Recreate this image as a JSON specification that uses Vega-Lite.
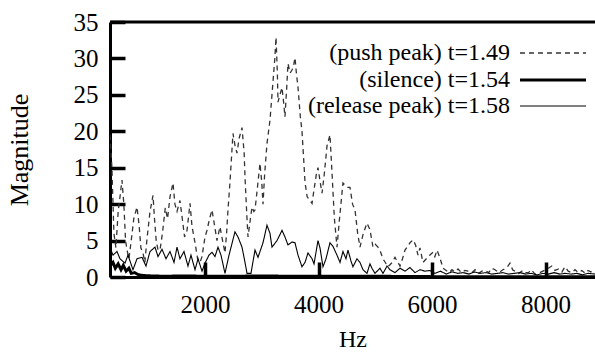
{
  "$schema": "https://vega.github.io/schema/vega-lite/v6.json",
  "width": 485,
  "height": 255,
  "autosize": {"type": "none"},
  "padding": {"left": 110, "top": 22, "right": 0, "bottom": 75},
  "background": "white",
  "config": {
    "view": {"stroke": null},
    "font": "Liberation Serif",
    "axis": {
      "grid": false,
      "domainColor": "black",
      "domainWidth": 3,
      "tickColor": "black",
      "tickWidth": 3.5,
      "tickSize": -15,
      "labelOverlap": false,
      "labelFont": "Liberation Serif",
      "labelFontSize": 25,
      "labelColor": "black",
      "titleFont": "Liberation Serif",
      "titleFontSize": 25,
      "titleFontWeight": "normal",
      "titleColor": "black"
    },
    "legend": {
      "labelFont": "Liberation Serif",
      "labelFontSize": 24,
      "labelColor": "black",
      "labelLimit": 0
    }
  },
  "datasets": {
    "spectra": [
      {"hz": 326, "m": 19.5, "series": "(push peak) t=1.49"},
      {"hz": 360, "m": 15, "series": "(push peak) t=1.49"},
      {"hz": 395, "m": 6, "series": "(push peak) t=1.49"},
      {"hz": 430, "m": 4, "series": "(push peak) t=1.49"},
      {"hz": 470, "m": 9, "series": "(push peak) t=1.49"},
      {"hz": 502, "m": 11, "series": "(push peak) t=1.49"},
      {"hz": 537, "m": 13.3, "series": "(push peak) t=1.49"},
      {"hz": 570, "m": 10, "series": "(push peak) t=1.49"},
      {"hz": 600, "m": 5, "series": "(push peak) t=1.49"},
      {"hz": 626, "m": 3.7, "series": "(push peak) t=1.49"},
      {"hz": 660, "m": 2.5, "series": "(push peak) t=1.49"},
      {"hz": 700, "m": 5, "series": "(push peak) t=1.49"},
      {"hz": 745, "m": 8, "series": "(push peak) t=1.49"},
      {"hz": 802, "m": 9.6, "series": "(push peak) t=1.49"},
      {"hz": 840, "m": 7, "series": "(push peak) t=1.49"},
      {"hz": 870, "m": 4, "series": "(push peak) t=1.49"},
      {"hz": 907, "m": 3.3, "series": "(push peak) t=1.49"},
      {"hz": 940, "m": 2.0, "series": "(push peak) t=1.49"},
      {"hz": 975, "m": 5, "series": "(push peak) t=1.49"},
      {"hz": 1031, "m": 9, "series": "(push peak) t=1.49"},
      {"hz": 1084, "m": 11.2, "series": "(push peak) t=1.49"},
      {"hz": 1110, "m": 8, "series": "(push peak) t=1.49"},
      {"hz": 1140, "m": 5, "series": "(push peak) t=1.49"},
      {"hz": 1172, "m": 3.7, "series": "(push peak) t=1.49"},
      {"hz": 1207, "m": 3.7, "series": "(push peak) t=1.49"},
      {"hz": 1250, "m": 6, "series": "(push peak) t=1.49"},
      {"hz": 1300, "m": 9.5, "series": "(push peak) t=1.49"},
      {"hz": 1340, "m": 8, "series": "(push peak) t=1.49"},
      {"hz": 1383, "m": 11, "series": "(push peak) t=1.49"},
      {"hz": 1436, "m": 12.9, "series": "(push peak) t=1.49"},
      {"hz": 1470, "m": 10, "series": "(push peak) t=1.49"},
      {"hz": 1507, "m": 9, "series": "(push peak) t=1.49"},
      {"hz": 1559, "m": 10.5, "series": "(push peak) t=1.49"},
      {"hz": 1600, "m": 8, "series": "(push peak) t=1.49"},
      {"hz": 1640, "m": 5.5, "series": "(push peak) t=1.49"},
      {"hz": 1683, "m": 6.4, "series": "(push peak) t=1.49"},
      {"hz": 1736, "m": 10.1, "series": "(push peak) t=1.49"},
      {"hz": 1770, "m": 7, "series": "(push peak) t=1.49"},
      {"hz": 1824, "m": 4.7, "series": "(push peak) t=1.49"},
      {"hz": 1870, "m": 2.5, "series": "(push peak) t=1.49"},
      {"hz": 1912, "m": 2.0, "series": "(push peak) t=1.49"},
      {"hz": 1947, "m": 2.8, "series": "(push peak) t=1.49"},
      {"hz": 2000, "m": 5.5, "series": "(push peak) t=1.49"},
      {"hz": 2035, "m": 6.4, "series": "(push peak) t=1.49"},
      {"hz": 2080, "m": 8, "series": "(push peak) t=1.49"},
      {"hz": 2123, "m": 9.2, "series": "(push peak) t=1.49"},
      {"hz": 2170, "m": 7, "series": "(push peak) t=1.49"},
      {"hz": 2211, "m": 5, "series": "(push peak) t=1.49"},
      {"hz": 2264, "m": 6.9, "series": "(push peak) t=1.49"},
      {"hz": 2310, "m": 5, "series": "(push peak) t=1.49"},
      {"hz": 2352, "m": 3.3, "series": "(push peak) t=1.49"},
      {"hz": 2380, "m": 6, "series": "(push peak) t=1.49"},
      {"hz": 2405, "m": 9.2, "series": "(push peak) t=1.49"},
      {"hz": 2440, "m": 13, "series": "(push peak) t=1.49"},
      {"hz": 2493, "m": 19.7, "series": "(push peak) t=1.49"},
      {"hz": 2530, "m": 18, "series": "(push peak) t=1.49"},
      {"hz": 2564, "m": 17, "series": "(push peak) t=1.49"},
      {"hz": 2600, "m": 19, "series": "(push peak) t=1.49"},
      {"hz": 2652, "m": 20.5, "series": "(push peak) t=1.49"},
      {"hz": 2690, "m": 17, "series": "(push peak) t=1.49"},
      {"hz": 2705, "m": 13.7, "series": "(push peak) t=1.49"},
      {"hz": 2740, "m": 8, "series": "(push peak) t=1.49"},
      {"hz": 2758, "m": 5.5, "series": "(push peak) t=1.49"},
      {"hz": 2800, "m": 8, "series": "(push peak) t=1.49"},
      {"hz": 2828, "m": 9.6, "series": "(push peak) t=1.49"},
      {"hz": 2860, "m": 9, "series": "(push peak) t=1.49"},
      {"hz": 2881, "m": 9.2, "series": "(push peak) t=1.49"},
      {"hz": 2920, "m": 12, "series": "(push peak) t=1.49"},
      {"hz": 2969, "m": 15.6, "series": "(push peak) t=1.49"},
      {"hz": 3000, "m": 13, "series": "(push peak) t=1.49"},
      {"hz": 3022, "m": 10, "series": "(push peak) t=1.49"},
      {"hz": 3050, "m": 14, "series": "(push peak) t=1.49"},
      {"hz": 3092, "m": 18.3, "series": "(push peak) t=1.49"},
      {"hz": 3120, "m": 20, "series": "(push peak) t=1.49"},
      {"hz": 3145, "m": 21.5, "series": "(push peak) t=1.49"},
      {"hz": 3180, "m": 25, "series": "(push peak) t=1.49"},
      {"hz": 3230, "m": 30, "series": "(push peak) t=1.49"},
      {"hz": 3251, "m": 32.9, "series": "(push peak) t=1.49"},
      {"hz": 3275, "m": 28, "series": "(push peak) t=1.49"},
      {"hz": 3286, "m": 24, "series": "(push peak) t=1.49"},
      {"hz": 3320, "m": 25, "series": "(push peak) t=1.49"},
      {"hz": 3357, "m": 26, "series": "(push peak) t=1.49"},
      {"hz": 3385, "m": 24, "series": "(push peak) t=1.49"},
      {"hz": 3409, "m": 22, "series": "(push peak) t=1.49"},
      {"hz": 3440, "m": 26, "series": "(push peak) t=1.49"},
      {"hz": 3462, "m": 29.3, "series": "(push peak) t=1.49"},
      {"hz": 3500, "m": 28, "series": "(push peak) t=1.49"},
      {"hz": 3533, "m": 28.4, "series": "(push peak) t=1.49"},
      {"hz": 3560, "m": 29, "series": "(push peak) t=1.49"},
      {"hz": 3586, "m": 30.1, "series": "(push peak) t=1.49"},
      {"hz": 3610, "m": 28, "series": "(push peak) t=1.49"},
      {"hz": 3639, "m": 26, "series": "(push peak) t=1.49"},
      {"hz": 3680, "m": 22, "series": "(push peak) t=1.49"},
      {"hz": 3709, "m": 20, "series": "(push peak) t=1.49"},
      {"hz": 3740, "m": 16, "series": "(push peak) t=1.49"},
      {"hz": 3762, "m": 13, "series": "(push peak) t=1.49"},
      {"hz": 3800, "m": 11, "series": "(push peak) t=1.49"},
      {"hz": 3850, "m": 10.5, "series": "(push peak) t=1.49"},
      {"hz": 3886, "m": 10.1, "series": "(push peak) t=1.49"},
      {"hz": 3921, "m": 12, "series": "(push peak) t=1.49"},
      {"hz": 3960, "m": 14, "series": "(push peak) t=1.49"},
      {"hz": 3991, "m": 15, "series": "(push peak) t=1.49"},
      {"hz": 4030, "m": 13, "series": "(push peak) t=1.49"},
      {"hz": 4062, "m": 11.5, "series": "(push peak) t=1.49"},
      {"hz": 4100, "m": 14, "series": "(push peak) t=1.49"},
      {"hz": 4150, "m": 18, "series": "(push peak) t=1.49"},
      {"hz": 4202, "m": 19.5, "series": "(push peak) t=1.49"},
      {"hz": 4240, "m": 14, "series": "(push peak) t=1.49"},
      {"hz": 4280, "m": 8, "series": "(push peak) t=1.49"},
      {"hz": 4326, "m": 4.1, "series": "(push peak) t=1.49"},
      {"hz": 4370, "m": 8, "series": "(push peak) t=1.49"},
      {"hz": 4431, "m": 12.9, "series": "(push peak) t=1.49"},
      {"hz": 4480, "m": 12.5, "series": "(push peak) t=1.49"},
      {"hz": 4519, "m": 12.3, "series": "(push peak) t=1.49"},
      {"hz": 4555, "m": 12.3, "series": "(push peak) t=1.49"},
      {"hz": 4600, "m": 10, "series": "(push peak) t=1.49"},
      {"hz": 4643, "m": 9.2, "series": "(push peak) t=1.49"},
      {"hz": 4690, "m": 6, "series": "(push peak) t=1.49"},
      {"hz": 4731, "m": 4.1, "series": "(push peak) t=1.49"},
      {"hz": 4790, "m": 6, "series": "(push peak) t=1.49"},
      {"hz": 4854, "m": 7.4, "series": "(push peak) t=1.49"},
      {"hz": 4907, "m": 6.5, "series": "(push peak) t=1.49"},
      {"hz": 4960, "m": 4.1, "series": "(push peak) t=1.49"},
      {"hz": 5000, "m": 4.5, "series": "(push peak) t=1.49"},
      {"hz": 5048, "m": 4.1, "series": "(push peak) t=1.49"},
      {"hz": 5090, "m": 3.5, "series": "(push peak) t=1.49"},
      {"hz": 5136, "m": 2.5, "series": "(push peak) t=1.49"},
      {"hz": 5224, "m": 1.4, "series": "(push peak) t=1.49"},
      {"hz": 5300, "m": 2.0, "series": "(push peak) t=1.49"},
      {"hz": 5348, "m": 2.7, "series": "(push peak) t=1.49"},
      {"hz": 5400, "m": 2.0, "series": "(push peak) t=1.49"},
      {"hz": 5436, "m": 1.5, "series": "(push peak) t=1.49"},
      {"hz": 5480, "m": 2.5, "series": "(push peak) t=1.49"},
      {"hz": 5524, "m": 3.7, "series": "(push peak) t=1.49"},
      {"hz": 5580, "m": 4.3, "series": "(push peak) t=1.49"},
      {"hz": 5612, "m": 4.7, "series": "(push peak) t=1.49"},
      {"hz": 5665, "m": 5.1, "series": "(push peak) t=1.49"},
      {"hz": 5710, "m": 4.4, "series": "(push peak) t=1.49"},
      {"hz": 5753, "m": 3.0, "series": "(push peak) t=1.49"},
      {"hz": 5788, "m": 4.0, "series": "(push peak) t=1.49"},
      {"hz": 5841, "m": 2.0, "series": "(push peak) t=1.49"},
      {"hz": 5900, "m": 2.5, "series": "(push peak) t=1.49"},
      {"hz": 5960, "m": 3.0, "series": "(push peak) t=1.49"},
      {"hz": 6017, "m": 3.4, "series": "(push peak) t=1.49"},
      {"hz": 6050, "m": 2.8, "series": "(push peak) t=1.49"},
      {"hz": 6088, "m": 3.7, "series": "(push peak) t=1.49"},
      {"hz": 6141, "m": 2.6, "series": "(push peak) t=1.49"},
      {"hz": 6194, "m": 1.2, "series": "(push peak) t=1.49"},
      {"hz": 6250, "m": 0.9, "series": "(push peak) t=1.49"},
      {"hz": 6300, "m": 0.6, "series": "(push peak) t=1.49"},
      {"hz": 6352, "m": 1.0, "series": "(push peak) t=1.49"},
      {"hz": 6400, "m": 0.7, "series": "(push peak) t=1.49"},
      {"hz": 6458, "m": 1.1, "series": "(push peak) t=1.49"},
      {"hz": 6520, "m": 0.6, "series": "(push peak) t=1.49"},
      {"hz": 6580, "m": 0.9, "series": "(push peak) t=1.49"},
      {"hz": 6634, "m": 0.8, "series": "(push peak) t=1.49"},
      {"hz": 6700, "m": 0.6, "series": "(push peak) t=1.49"},
      {"hz": 6760, "m": 1.0, "series": "(push peak) t=1.49"},
      {"hz": 6820, "m": 0.5, "series": "(push peak) t=1.49"},
      {"hz": 6880, "m": 0.8, "series": "(push peak) t=1.49"},
      {"hz": 6934, "m": 0.9, "series": "(push peak) t=1.49"},
      {"hz": 7000, "m": 0.6, "series": "(push peak) t=1.49"},
      {"hz": 7050, "m": 1.2, "series": "(push peak) t=1.49"},
      {"hz": 7110, "m": 1.0, "series": "(push peak) t=1.49"},
      {"hz": 7180, "m": 0.6, "series": "(push peak) t=1.49"},
      {"hz": 7250, "m": 1.0, "series": "(push peak) t=1.49"},
      {"hz": 7320, "m": 1.3, "series": "(push peak) t=1.49"},
      {"hz": 7374, "m": 1.9, "series": "(push peak) t=1.49"},
      {"hz": 7420, "m": 1.0, "series": "(push peak) t=1.49"},
      {"hz": 7462, "m": 0.8, "series": "(push peak) t=1.49"},
      {"hz": 7530, "m": 0.5, "series": "(push peak) t=1.49"},
      {"hz": 7600, "m": 0.9, "series": "(push peak) t=1.49"},
      {"hz": 7638, "m": 0.6, "series": "(push peak) t=1.49"},
      {"hz": 7700, "m": 0.6, "series": "(push peak) t=1.49"},
      {"hz": 7750, "m": 1.0, "series": "(push peak) t=1.49"},
      {"hz": 7814, "m": 0.4, "series": "(push peak) t=1.49"},
      {"hz": 7900, "m": 0.6, "series": "(push peak) t=1.49"},
      {"hz": 7980, "m": 0.9, "series": "(push peak) t=1.49"},
      {"hz": 8050, "m": 1.2, "series": "(push peak) t=1.49"},
      {"hz": 8110, "m": 1.5, "series": "(push peak) t=1.49"},
      {"hz": 8167, "m": 0.9, "series": "(push peak) t=1.49"},
      {"hz": 8230, "m": 1.1, "series": "(push peak) t=1.49"},
      {"hz": 8290, "m": 0.7, "series": "(push peak) t=1.49"},
      {"hz": 8343, "m": 1.4, "series": "(push peak) t=1.49"},
      {"hz": 8400, "m": 0.8, "series": "(push peak) t=1.49"},
      {"hz": 8460, "m": 0.6, "series": "(push peak) t=1.49"},
      {"hz": 8519, "m": 1.0, "series": "(push peak) t=1.49"},
      {"hz": 8580, "m": 0.6, "series": "(push peak) t=1.49"},
      {"hz": 8640, "m": 0.9, "series": "(push peak) t=1.49"},
      {"hz": 8700, "m": 0.5, "series": "(push peak) t=1.49"},
      {"hz": 8748, "m": 0.9, "series": "(push peak) t=1.49"},
      {"hz": 8800, "m": 0.7, "series": "(push peak) t=1.49"},
      {"hz": 8872, "m": 1.0, "series": "(push peak) t=1.49"},

      {"hz": 326, "m": 1.5, "series": "(silence) t=1.54"},
      {"hz": 379, "m": 2.0, "series": "(silence) t=1.54"},
      {"hz": 420, "m": 1.2, "series": "(silence) t=1.54"},
      {"hz": 470, "m": 1.8, "series": "(silence) t=1.54"},
      {"hz": 520, "m": 1.0, "series": "(silence) t=1.54"},
      {"hz": 560, "m": 1.6, "series": "(silence) t=1.54"},
      {"hz": 610, "m": 0.8, "series": "(silence) t=1.54"},
      {"hz": 660, "m": 1.2, "series": "(silence) t=1.54"},
      {"hz": 700, "m": 0.5, "series": "(silence) t=1.54"},
      {"hz": 760, "m": 0.6, "series": "(silence) t=1.54"},
      {"hz": 830, "m": 0.3, "series": "(silence) t=1.54"},
      {"hz": 920, "m": 0.2, "series": "(silence) t=1.54"},
      {"hz": 1050, "m": 0.15, "series": "(silence) t=1.54"},
      {"hz": 1300, "m": 0.1, "series": "(silence) t=1.54"},
      {"hz": 1600, "m": 0.15, "series": "(silence) t=1.54"},
      {"hz": 2000, "m": 0.1, "series": "(silence) t=1.54"},
      {"hz": 2500, "m": 0.1, "series": "(silence) t=1.54"},
      {"hz": 3000, "m": 0.15, "series": "(silence) t=1.54"},
      {"hz": 3500, "m": 0.1, "series": "(silence) t=1.54"},
      {"hz": 4000, "m": 0.1, "series": "(silence) t=1.54"},
      {"hz": 5000, "m": 0.1, "series": "(silence) t=1.54"},
      {"hz": 6000, "m": 0.05, "series": "(silence) t=1.54"},
      {"hz": 7000, "m": 0.05, "series": "(silence) t=1.54"},
      {"hz": 8000, "m": 0.05, "series": "(silence) t=1.54"},
      {"hz": 8872, "m": 0.05, "series": "(silence) t=1.54"},

      {"hz": 326, "m": 4.0, "series": "(release peak) t=1.58"},
      {"hz": 379, "m": 3.0, "series": "(release peak) t=1.58"},
      {"hz": 449, "m": 3.5, "series": "(release peak) t=1.58"},
      {"hz": 502, "m": 2.5, "series": "(release peak) t=1.58"},
      {"hz": 590, "m": 1.9, "series": "(release peak) t=1.58"},
      {"hz": 643, "m": 3.0, "series": "(release peak) t=1.58"},
      {"hz": 731, "m": 1.0, "series": "(release peak) t=1.58"},
      {"hz": 802, "m": 2.5, "series": "(release peak) t=1.58"},
      {"hz": 890, "m": 2.7, "series": "(release peak) t=1.58"},
      {"hz": 960, "m": 1.5, "series": "(release peak) t=1.58"},
      {"hz": 1031, "m": 3.5, "series": "(release peak) t=1.58"},
      {"hz": 1119, "m": 4.1, "series": "(release peak) t=1.58"},
      {"hz": 1172, "m": 2.8, "series": "(release peak) t=1.58"},
      {"hz": 1242, "m": 3.8, "series": "(release peak) t=1.58"},
      {"hz": 1313, "m": 2.5, "series": "(release peak) t=1.58"},
      {"hz": 1383, "m": 3.5, "series": "(release peak) t=1.58"},
      {"hz": 1454, "m": 2.0, "series": "(release peak) t=1.58"},
      {"hz": 1507, "m": 4.1, "series": "(release peak) t=1.58"},
      {"hz": 1559, "m": 2.5, "series": "(release peak) t=1.58"},
      {"hz": 1630, "m": 3.5, "series": "(release peak) t=1.58"},
      {"hz": 1700, "m": 1.5, "series": "(release peak) t=1.58"},
      {"hz": 1753, "m": 3.0, "series": "(release peak) t=1.58"},
      {"hz": 1824, "m": 1.0, "series": "(release peak) t=1.58"},
      {"hz": 1877, "m": 2.5, "series": "(release peak) t=1.58"},
      {"hz": 1947, "m": 0.8, "series": "(release peak) t=1.58"},
      {"hz": 2000, "m": 1.9, "series": "(release peak) t=1.58"},
      {"hz": 2070, "m": 3.0, "series": "(release peak) t=1.58"},
      {"hz": 2123, "m": 3.4, "series": "(release peak) t=1.58"},
      {"hz": 2176, "m": 2.8, "series": "(release peak) t=1.58"},
      {"hz": 2229, "m": 4.1, "series": "(release peak) t=1.58"},
      {"hz": 2282, "m": 3.0, "series": "(release peak) t=1.58"},
      {"hz": 2352, "m": 0.5, "series": "(release peak) t=1.58"},
      {"hz": 2423, "m": 3.0, "series": "(release peak) t=1.58"},
      {"hz": 2528, "m": 6.2, "series": "(release peak) t=1.58"},
      {"hz": 2581, "m": 5.5, "series": "(release peak) t=1.58"},
      {"hz": 2652, "m": 4.1, "series": "(release peak) t=1.58"},
      {"hz": 2705, "m": 2.0, "series": "(release peak) t=1.58"},
      {"hz": 2740, "m": 0.5, "series": "(release peak) t=1.58"},
      {"hz": 2810, "m": 0.5, "series": "(release peak) t=1.58"},
      {"hz": 2881, "m": 3.7, "series": "(release peak) t=1.58"},
      {"hz": 2934, "m": 2.7, "series": "(release peak) t=1.58"},
      {"hz": 3022, "m": 4.7, "series": "(release peak) t=1.58"},
      {"hz": 3092, "m": 7.1, "series": "(release peak) t=1.58"},
      {"hz": 3145, "m": 6.0, "series": "(release peak) t=1.58"},
      {"hz": 3180, "m": 4.1, "series": "(release peak) t=1.58"},
      {"hz": 3269, "m": 5.0, "series": "(release peak) t=1.58"},
      {"hz": 3357, "m": 6.4, "series": "(release peak) t=1.58"},
      {"hz": 3409, "m": 5.5, "series": "(release peak) t=1.58"},
      {"hz": 3462, "m": 4.4, "series": "(release peak) t=1.58"},
      {"hz": 3533, "m": 4.8, "series": "(release peak) t=1.58"},
      {"hz": 3586, "m": 4.7, "series": "(release peak) t=1.58"},
      {"hz": 3639, "m": 3.0, "series": "(release peak) t=1.58"},
      {"hz": 3709, "m": 1.4, "series": "(release peak) t=1.58"},
      {"hz": 3762, "m": 2.0, "series": "(release peak) t=1.58"},
      {"hz": 3815, "m": 3.3, "series": "(release peak) t=1.58"},
      {"hz": 3886, "m": 2.5, "series": "(release peak) t=1.58"},
      {"hz": 3921, "m": 1.8, "series": "(release peak) t=1.58"},
      {"hz": 3991, "m": 5.0, "series": "(release peak) t=1.58"},
      {"hz": 4026, "m": 4.0, "series": "(release peak) t=1.58"},
      {"hz": 4079, "m": 1.4, "series": "(release peak) t=1.58"},
      {"hz": 4132, "m": 2.5, "series": "(release peak) t=1.58"},
      {"hz": 4202, "m": 4.7, "series": "(release peak) t=1.58"},
      {"hz": 4255, "m": 4.2, "series": "(release peak) t=1.58"},
      {"hz": 4326, "m": 3.0, "series": "(release peak) t=1.58"},
      {"hz": 4379, "m": 2.0, "series": "(release peak) t=1.58"},
      {"hz": 4431, "m": 3.5, "series": "(release peak) t=1.58"},
      {"hz": 4484, "m": 2.5, "series": "(release peak) t=1.58"},
      {"hz": 4519, "m": 3.7, "series": "(release peak) t=1.58"},
      {"hz": 4572, "m": 2.2, "series": "(release peak) t=1.58"},
      {"hz": 4607, "m": 1.4, "series": "(release peak) t=1.58"},
      {"hz": 4678, "m": 2.5, "series": "(release peak) t=1.58"},
      {"hz": 4731, "m": 2.0, "series": "(release peak) t=1.58"},
      {"hz": 4784, "m": 1.0, "series": "(release peak) t=1.58"},
      {"hz": 4854, "m": 0.5, "series": "(release peak) t=1.58"},
      {"hz": 4907, "m": 1.8, "series": "(release peak) t=1.58"},
      {"hz": 4942, "m": 1.2, "series": "(release peak) t=1.58"},
      {"hz": 4995, "m": 0.5, "series": "(release peak) t=1.58"},
      {"hz": 5083, "m": 1.2, "series": "(release peak) t=1.58"},
      {"hz": 5136, "m": 0.5, "series": "(release peak) t=1.58"},
      {"hz": 5207, "m": 1.5, "series": "(release peak) t=1.58"},
      {"hz": 5260, "m": 1.0, "series": "(release peak) t=1.58"},
      {"hz": 5348, "m": 0.6, "series": "(release peak) t=1.58"},
      {"hz": 5436, "m": 1.2, "series": "(release peak) t=1.58"},
      {"hz": 5524, "m": 0.8, "series": "(release peak) t=1.58"},
      {"hz": 5612, "m": 1.3, "series": "(release peak) t=1.58"},
      {"hz": 5700, "m": 0.6, "series": "(release peak) t=1.58"},
      {"hz": 5788, "m": 1.0, "series": "(release peak) t=1.58"},
      {"hz": 5876, "m": 0.8, "series": "(release peak) t=1.58"},
      {"hz": 5964, "m": 0.9, "series": "(release peak) t=1.58"},
      {"hz": 6050, "m": 0.5, "series": "(release peak) t=1.58"},
      {"hz": 6150, "m": 0.8, "series": "(release peak) t=1.58"},
      {"hz": 6250, "m": 0.4, "series": "(release peak) t=1.58"},
      {"hz": 6350, "m": 0.7, "series": "(release peak) t=1.58"},
      {"hz": 6450, "m": 0.5, "series": "(release peak) t=1.58"},
      {"hz": 6550, "m": 0.6, "series": "(release peak) t=1.58"},
      {"hz": 6650, "m": 0.4, "series": "(release peak) t=1.58"},
      {"hz": 6750, "m": 0.7, "series": "(release peak) t=1.58"},
      {"hz": 6850, "m": 0.5, "series": "(release peak) t=1.58"},
      {"hz": 6950, "m": 0.6, "series": "(release peak) t=1.58"},
      {"hz": 7050, "m": 0.4, "series": "(release peak) t=1.58"},
      {"hz": 7150, "m": 0.5, "series": "(release peak) t=1.58"},
      {"hz": 7250, "m": 0.6, "series": "(release peak) t=1.58"},
      {"hz": 7350, "m": 0.4, "series": "(release peak) t=1.58"},
      {"hz": 7450, "m": 0.5, "series": "(release peak) t=1.58"},
      {"hz": 7550, "m": 0.6, "series": "(release peak) t=1.58"},
      {"hz": 7650, "m": 0.4, "series": "(release peak) t=1.58"},
      {"hz": 7750, "m": 0.5, "series": "(release peak) t=1.58"},
      {"hz": 7850, "m": 0.3, "series": "(release peak) t=1.58"},
      {"hz": 7950, "m": 0.5, "series": "(release peak) t=1.58"},
      {"hz": 8050, "m": 0.4, "series": "(release peak) t=1.58"},
      {"hz": 8150, "m": 0.6, "series": "(release peak) t=1.58"},
      {"hz": 8250, "m": 0.4, "series": "(release peak) t=1.58"},
      {"hz": 8350, "m": 0.5, "series": "(release peak) t=1.58"},
      {"hz": 8450, "m": 0.4, "series": "(release peak) t=1.58"},
      {"hz": 8550, "m": 0.5, "series": "(release peak) t=1.58"},
      {"hz": 8650, "m": 0.3, "series": "(release peak) t=1.58"},
      {"hz": 8750, "m": 0.5, "series": "(release peak) t=1.58"},
      {"hz": 8872, "m": 0.4, "series": "(release peak) t=1.58"}
    ]
  },
  "layer": [
    {
      "data": {"name": "spectra"},
      "mark": {"type": "line", "strokeJoin": "miter", "clip": true},
      "encoding": {
        "x": {
          "field": "hz", "type": "quantitative", "title": "Hz",
          "scale": {"domain": [326, 8872], "nice": false, "zero": false},
          "axis": {"values": [2000, 4000, 6000, 8000], "format": "d", "ticks": true, "tickSize": -15, "labelOverlap": false, "labelPadding": 30, "titlePadding": 10, "titleFontSize": 24}
        },
        "y": {
          "field": "m", "type": "quantitative", "title": "Magnitude",
          "scale": {"domain": [0, 35], "nice": false},
          "axis": {"values": [0, 5, 10, 15, 20, 25, 30, 35], "format": "d", "ticks": true, "tickSize": -15, "tickColor": "black", "tickWidth": 3.5, "tickOpacity": 1, "domain": true, "domainColor": "black", "domainWidth": 3, "labelOverlap": false, "labelPadding": 27, "titlePadding": 41, "titleFontSize": 26}
        },
        "color": {
          "field": "series", "type": "nominal", "title": null,
          "scale": {"domain": ["(push peak) t=1.49", "(silence) t=1.54", "(release peak) t=1.58"], "range": ["#333333", "#000000", "#000000"]}
        },
        "strokeDash": {
          "field": "series", "type": "nominal", "title": null,
          "scale": {"domain": ["(push peak) t=1.49", "(silence) t=1.54", "(release peak) t=1.58"], "range": [[5, 4], [1, 0], [1, 0]]}
        },
        "strokeWidth": {
          "field": "series", "type": "nominal", "title": null,
          "scale": {"type": "ordinal", "domain": ["(push peak) t=1.49", "(silence) t=1.54", "(release peak) t=1.58"], "range": [1.3, 3, 1.1]},
          "legend": {
            "orient": "none", "legendX": 428, "legendY": 17,
            "symbolType": "M-2.5,0H2.5", "symbolSize": 697,
            "labelAlign": "right", "labelOffset": -58, "rowPadding": 0
          }
        },
        "detail": {"field": "series"}
      }
    },
    {
      "data": {"values": [{}]},
      "mark": {"type": "rule", "color": "black", "strokeWidth": 3},
      "encoding": {
        "y": {
          "datum": 35, "type": "quantitative", "title": "Magnitude",
          "scale": {"domain": [0, 35], "nice": false},
          "axis": {"values": [0, 5, 10, 15, 20, 25, 30, 35], "format": "d", "ticks": true, "tickSize": -15, "tickColor": "black", "tickWidth": 3.5, "tickOpacity": 1, "domain": true, "domainColor": "black", "domainWidth": 3, "labelOverlap": false, "labelPadding": 27, "titlePadding": 41, "titleFontSize": 26}
        }
      }
    }
  ]
}
